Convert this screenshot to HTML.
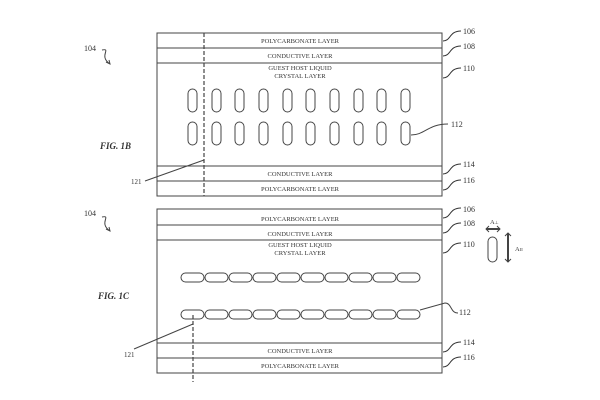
<!DOCTYPE html><html><head><style>body{margin:0;background:#fff}svg{display:block}text{font-family:"Liberation Serif",serif;fill:#333}</style></head><body>
<svg width="600" height="400" viewBox="0 0 600 400" xmlns="http://www.w3.org/2000/svg">
<defs>
<g id="lead"><path d="M0 0 C8 0 6 -10 18 -10" fill="none" stroke="#333" stroke-width="1"/></g>
</defs>
<g stroke="#444" fill="none" stroke-width="1">
<rect x="157" y="33" width="285" height="163"/>
<line x1="157" y1="48" x2="442" y2="48"/><line x1="157" y1="63" x2="442" y2="63"/>
<line x1="157" y1="166" x2="442" y2="166"/><line x1="157" y1="181" x2="442" y2="181"/>
<line x1="204" y1="33" x2="204" y2="196" stroke-dasharray="4,2" stroke-width="1.2"/>
<line x1="204" y1="160" x2="145" y2="181"/>
<rect x="188" y="89" width="9" height="23" rx="4.5"/><rect x="212" y="89" width="9" height="23" rx="4.5"/><rect x="235" y="89" width="9" height="23" rx="4.5"/><rect x="259" y="89" width="9" height="23" rx="4.5"/><rect x="283" y="89" width="9" height="23" rx="4.5"/><rect x="306" y="89" width="9" height="23" rx="4.5"/><rect x="330" y="89" width="9" height="23" rx="4.5"/><rect x="354" y="89" width="9" height="23" rx="4.5"/><rect x="377" y="89" width="9" height="23" rx="4.5"/><rect x="401" y="89" width="9" height="23" rx="4.5"/>
<rect x="188" y="122" width="9" height="23" rx="4.5"/><rect x="212" y="122" width="9" height="23" rx="4.5"/><rect x="235" y="122" width="9" height="23" rx="4.5"/><rect x="259" y="122" width="9" height="23" rx="4.5"/><rect x="283" y="122" width="9" height="23" rx="4.5"/><rect x="306" y="122" width="9" height="23" rx="4.5"/><rect x="330" y="122" width="9" height="23" rx="4.5"/><rect x="354" y="122" width="9" height="23" rx="4.5"/><rect x="377" y="122" width="9" height="23" rx="4.5"/><rect x="401" y="122" width="9" height="23" rx="4.5"/>
<path d="M411 135 C425 135 428 124 448 124"/>
<path d="M102 50 C112 48 98 56 110 64"/><path d="M106 62 l4 2 l-1 -4"/>

<rect x="157" y="209" width="285" height="164"/>
<line x1="157" y1="225" x2="442" y2="225"/><line x1="157" y1="240" x2="442" y2="240"/>
<line x1="157" y1="343" x2="442" y2="343"/><line x1="157" y1="358" x2="442" y2="358"/>
<line x1="193" y1="315" x2="193" y2="382" stroke-dasharray="4,2" stroke-width="1.2"/>
<line x1="193" y1="324" x2="134" y2="349"/>
<g id="row"><rect x="181" y="273" width="23" height="9" rx="4.5"/><rect x="205" y="273" width="23" height="9" rx="4.5"/><rect x="229" y="273" width="23" height="9" rx="4.5"/><rect x="253" y="273" width="23" height="9" rx="4.5"/><rect x="277" y="273" width="23" height="9" rx="4.5"/><rect x="301" y="273" width="23" height="9" rx="4.5"/><rect x="325" y="273" width="23" height="9" rx="4.5"/><rect x="349" y="273" width="23" height="9" rx="4.5"/><rect x="373" y="273" width="23" height="9" rx="4.5"/><rect x="397" y="273" width="23" height="9" rx="4.5"/></g>
<use href="#row" y="37"/>
<path d="M420 310 L445 303 C452 303 450 313 458 313"/>
<path d="M102 217 C112 215 98 223 110 231"/><path d="M106 229 l4 2 l-1 -4"/>
<rect x="488" y="237" width="9" height="25" rx="4.5"/>
<line x1="486" y1="229" x2="500" y2="229" stroke-width="2"/><path d="M489 226 l-3 3 l3 3 M497 226 l3 3 l-3 3"/>
<line x1="508" y1="233" x2="508" y2="262" stroke-width="2"/><path d="M505 236 l3 -3 l3 3 M505 259 l3 3 l3 -3"/>
</g>
<g stroke="#333" fill="none">
<use href="#lead" x="443" y="41"/><use href="#lead" x="443" y="56"/><use href="#lead" x="443" y="78"/><use href="#lead" x="443" y="174"/><use href="#lead" x="443" y="190"/>
<use href="#lead" x="443" y="218"/><use href="#lead" x="443" y="233"/><use href="#lead" x="443" y="253"/><use href="#lead" x="443" y="352"/><use href="#lead" x="443" y="367"/>
</g>
<g font-size="6.5" text-anchor="middle">
<text x="300" y="43">POLYCARBONATE LAYER</text><text x="300" y="58">CONDUCTIVE LAYER</text>
<text x="300" y="70">GUEST HOST LIQUID</text><text x="300" y="78">CRYSTAL LAYER</text>
<text x="300" y="176">CONDUCTIVE LAYER</text><text x="300" y="191">POLYCARBONATE LAYER</text>
<text x="300" y="221">POLYCARBONATE LAYER</text><text x="300" y="236">CONDUCTIVE LAYER</text>
<text x="300" y="247">GUEST HOST LIQUID</text><text x="300" y="255">CRYSTAL LAYER</text>
<text x="300" y="353">CONDUCTIVE LAYER</text><text x="300" y="368">POLYCARBONATE LAYER</text>
</g>
<g font-size="8">
<text x="463" y="34">106</text><text x="463" y="49">108</text><text x="463" y="71">110</text><text x="451" y="127">112</text><text x="463" y="167">114</text><text x="463" y="183">116</text>
<text x="84" y="51">104</text><text x="131" y="184" font-size="7">121</text>
<text x="463" y="212">106</text><text x="463" y="226">108</text><text x="463" y="247">110</text><text x="459" y="315">112</text><text x="463" y="345">114</text><text x="463" y="360">116</text>
<text x="84" y="216">104</text><text x="124" y="357" font-size="7">121</text>
<text x="490" y="224" font-size="6.5">A<tspan font-size="4.5">⊥</tspan></text><text x="515" y="251" font-size="6.5">A<tspan font-size="4.5">II</tspan></text>
</g>
<g font-size="9" font-weight="bold" font-style="italic">
<text x="100" y="149">FIG. 1B</text><text x="98" y="299">FIG. 1C</text>
</g>
</svg>
</body></html>
